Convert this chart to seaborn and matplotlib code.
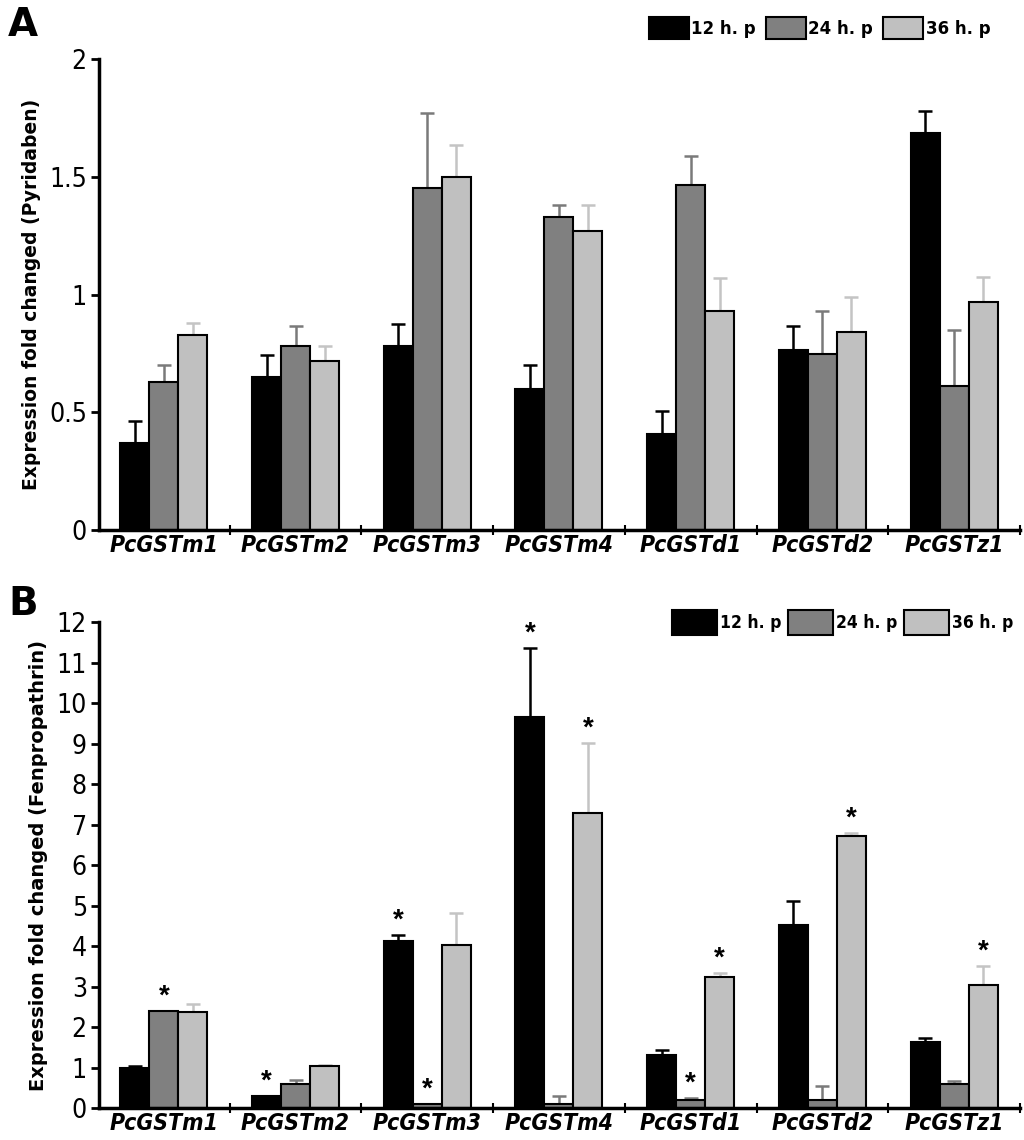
import matplotlib
matplotlib.use("Agg")
import matplotlib.pyplot as plt
import seaborn as sns
import numpy as np
import pandas as pd

genes = ["PcGSTm1", "PcGSTm2", "PcGSTm3", "PcGSTm4", "PcGSTd1", "PcGSTd2", "PcGSTz1"]
times = ["12 h. p", "24 h. p", "36 h. p"]

# panel A - pyridaben (mean per time point, and upper error)
pyr_12 = [0.37, 0.65, 0.78, 0.60, 0.41, 0.765, 1.685]
pyr_24 = [0.63, 0.78, 1.455, 1.33, 1.465, 0.75, 0.61]
pyr_36 = [0.83, 0.72, 1.50, 1.27, 0.93, 0.84, 0.97]
pyr_err_12 = [0.095, 0.095, 0.095, 0.10, 0.095, 0.10, 0.095]
pyr_err_24 = [0.07, 0.085, 0.315, 0.05, 0.125, 0.18, 0.24]
pyr_err_36 = [0.05, 0.06, 0.135, 0.11, 0.14, 0.15, 0.105]

# panel B - fenpropathrin
fen_12 = [0.99, 0.29, 4.14, 9.67, 1.30, 4.52, 1.63]
fen_24 = [2.39, 0.59, 0.11, 0.11, 0.20, 0.20, 0.59]
fen_36 = [2.37, 1.03, 4.04, 7.28, 3.25, 6.73, 3.03]
fen_err_12 = [0.04, 0.02, 0.13, 1.70, 0.13, 0.59, 0.10]
fen_err_24 = [0.01, 0.11, 0.0, 0.18, 0.05, 0.34, 0.07]
fen_err_36 = [0.21, 0.04, 0.78, 1.73, 0.08, 0.06, 0.49]
# significance marks (gene index, time index)
fen_stars = [(0, 1), (1, 0), (2, 0), (2, 1), (3, 0), (3, 2), (4, 1), (4, 2), (5, 2), (6, 2)]

bar_colors = ["#000000", "#808080", "#c0c0c0"]
err_colors = ["#000000", "#7a7a7a", "#c4c4c4"]

sns.set_style("ticks")
plt.rcParams["font.family"] = ["Liberation Sans", "DejaVu Sans"]
for key in ["text.color", "axes.labelcolor", "xtick.color", "ytick.color", "axes.edgecolor"]:
    plt.rcParams[key] = "black"


def long_df(v12, v24, v36):
    rows = []
    for t, vals in zip(times, [v12, v24, v36]):
        for g, v in zip(genes, vals):
            rows.append({"gene": g, "time": t, "value": v})
    return pd.DataFrame(rows)


def draw_panel(ax, df, errs, ylim, yticks, ylabel, ylabel_size, legend_kw, stars=None):
    sns.barplot(data=df, x="gene", y="value", hue="time", palette=bar_colors,
                edgecolor="black", linewidth=1.5, width=0.66, gap=0,
                errorbar=None, saturation=1, ax=ax)
    bars = list(ax.containers)
    for i, cont in enumerate(bars):
        xs = [p.get_x() + p.get_width() / 2 for p in cont]
        ys = [p.get_height() for p in cont]
        ax.errorbar(xs, ys, yerr=[np.zeros(len(ys)), errs[i]], fmt="none",
                    ecolor=err_colors[i], elinewidth=1.8, capsize=5, capthick=1.8,
                    zorder=0)
    if stars:
        for gi, ti in stars:
            p = bars[ti][gi]
            top = p.get_height() + errs[ti][gi]
            ax.annotate("*", (p.get_x() + p.get_width() / 2, top),
                        xytext=(0, 1), textcoords="offset points",
                        ha="center", va="bottom", fontsize=20, fontweight="bold",
                        family="Liberation Sans")
    ax.set_xlim(-0.49, 6.48)
    ax.set_ylim(*ylim)
    ax.set_yticks(yticks)
    ax.set_yticklabels([f"{t:g}" for t in yticks], fontsize=19,
                       family="DejaVu Sans", fontstretch="condensed")
    ax.set_xticks(range(len(genes)))
    ax.set_xticklabels(genes, fontsize=16.5, style="italic", fontweight="bold",
                       family="DejaVu Sans", fontstretch="condensed")
    ax.tick_params(axis="x", length=0, pad=3)
    ax.set_xticks(np.arange(0.5, 6.6, 1), minor=True)
    ax.tick_params(axis="x", which="minor", direction="inout", length=7, width=1.5)
    ax.tick_params(axis="y", direction="out", length=6, width=2, pad=3)
    ax.set_xlabel("")
    ax.set_ylabel(ylabel, fontsize=ylabel_size, fontweight="bold", family="DejaVu Sans",
                  labelpad=6)
    for s in ["top", "right"]:
        ax.spines[s].set_visible(False)
    ax.spines["left"].set_linewidth(2.5)
    ax.spines["bottom"].set_linewidth(2.5)
    handles, labels = ax.get_legend_handles_labels()
    ax.legend(handles, labels, ncol=3, loc="center right", frameon=False,
              handletextpad=0.15, borderaxespad=0, **legend_kw)


fig = plt.figure(figsize=(10.24, 11.4), dpi=100)
ax_a = fig.add_axes([0.097, 0.535, 0.899, 0.413])
ax_b = fig.add_axes([0.097, 0.028, 0.899, 0.426])

draw_panel(ax_a, long_df(pyr_12, pyr_24, pyr_36),
           [pyr_err_12, pyr_err_24, pyr_err_36],
           (0, 2), [0, 0.5, 1, 1.5, 2],
           "Expression fold changed (Pyridaben)", 13.5,
           dict(bbox_to_anchor=(0.975, 1.066), handlelength=2.4, handleheight=1.65,
                columnspacing=0.6,
                prop={"family": "DejaVu Sans", "weight": "bold", "size": 12}))
draw_panel(ax_b, long_df(fen_12, fen_24, fen_36),
           [fen_err_12, fen_err_24, fen_err_36],
           (0, 12), list(range(0, 13)),
           "Expression fold changed (Fenpropathrin)", 14,
           dict(bbox_to_anchor=(1.0, 1.0), handlelength=2.6, handleheight=1.8,
                columnspacing=0.4,
                prop={"family": "DejaVu Sans", "weight": "bold", "size": 12.5,
                      "stretch": "condensed"}),
           stars=fen_stars)

fig.text(0.008, 0.995, "A", fontsize=28, fontweight="bold", va="top",
         family="DejaVu Sans")
fig.text(0.008, 0.487, "B", fontsize=28, fontweight="bold", va="top",
         family="DejaVu Sans")

fig.savefig("out.png", dpi=100)
